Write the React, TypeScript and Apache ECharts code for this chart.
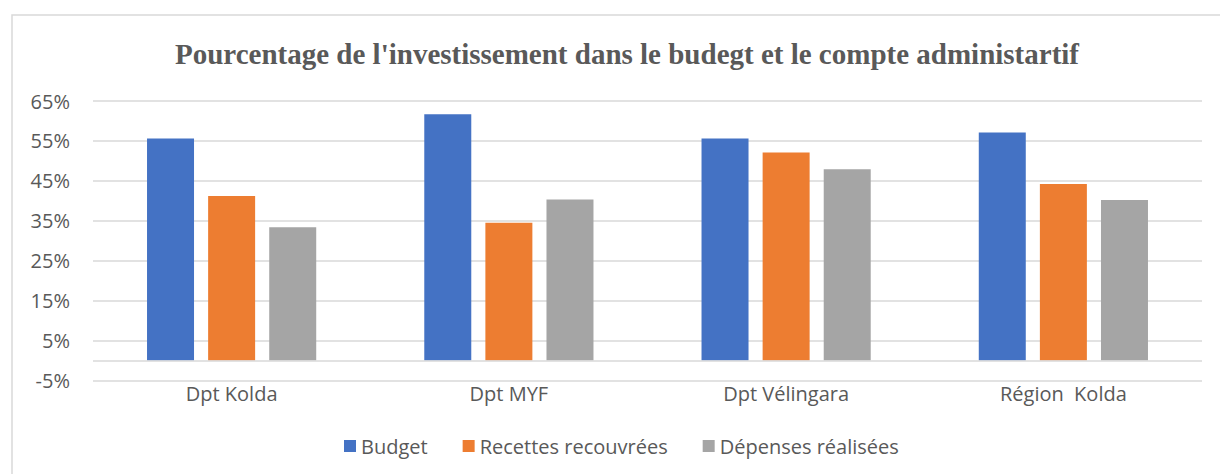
import React, { useEffect, useRef } from "react";
import * as echarts from "echarts";

const categories = ["Dpt Kolda", "Dpt MYF", "Dpt Vélingara", "Région  Kolda"];
const budget = [55.6, 61.7, 55.6, 57.1];
const recettes = [41.2, 34.5, 52.1, 44.2];
const depenses = [33.4, 40.3, 47.9, 40.2];
const seriesNames = ["Budget", "Recettes recouvrées", "Dépenses réalisées"];
const colors = ["#4472C4", "#ED7D31", "#A5A5A5"];
const titleText = "Pourcentage de l'investissement dans le budegt et le compte administartif";

export default function App() {
  const ref = useRef<HTMLDivElement>(null);
  useEffect(() => {
    if (!ref.current) return;
    const chart = echarts.init(ref.current, null, { renderer: "svg" });
    const font = "'Open Sans', 'Noto Sans', sans-serif";
    const mk = (name: string, data: number[], color: string, withZero: boolean) => ({
      name,
      type: "bar",
      data,
      barWidth: 47,
      barGap: "30%",
      itemStyle: { color },
      ...(withZero
        ? {
            markLine: {
              silent: true,
              symbol: "none",
              label: { show: false },
              lineStyle: { color: "#d9d9d9", width: 1.5, type: "solid" },
              data: [{ yAxis: 0 }],
            },
          }
        : {}),
    });
    chart.setOption({
      animation: false,
      backgroundColor: "#ffffff",
      color: colors,
      title: {
        text: titleText,
        left: 170,
        top: 34,
        textStyle: {
          fontFamily: "'Liberation Serif', 'Times New Roman', serif",
          fontWeight: "bold",
          fontSize: 29,
          color: "#595959",
        },
      },
      graphic: [
        {
          type: "rect",
          shape: { x: 12, y: 15, width: 1220, height: 480 },
          style: { fill: "none", stroke: "#d9d9d9", lineWidth: 1.5 },
          silent: true,
        },
      ],
      legend: {
        data: seriesNames,
        top: 431,
        left: 339,
        icon: "rect",
        itemWidth: 12,
        itemHeight: 12,
        itemGap: 35,
        textStyle: { fontFamily: font, fontSize: 20, color: "#595959" },
      },
      grid: { left: 93, right: 18, top: 101, bottom: 93.5, containLabel: false },
      xAxis: {
        type: "category",
        data: categories,
        axisLine: { show: false, onZero: false },
        axisTick: { show: false },
        axisLabel: { fontFamily: font, fontSize: 20, color: "#595959", margin: 3 },
      },
      yAxis: {
        type: "value",
        min: -5,
        max: 65,
        interval: 10,
        axisLine: { show: false },
        axisTick: { show: false },
        axisLabel: { fontFamily: font, fontSize: 20, color: "#595959", margin: 23, formatter: "{value}%" },
        splitLine: { lineStyle: { color: "#d9d9d9", width: 1.5 } },
      },
      series: [
        mk(seriesNames[0], budget, colors[0], true),
        mk(seriesNames[1], recettes, colors[1], false),
        mk(seriesNames[2], depenses, colors[2], false),
      ],
    });
    return () => chart.dispose();
  }, []);
  return (
    <div
      ref={ref}
      style={{ position: "fixed", left: 0, top: 0, width: 1220, height: 474 }}
    />
  );
}
